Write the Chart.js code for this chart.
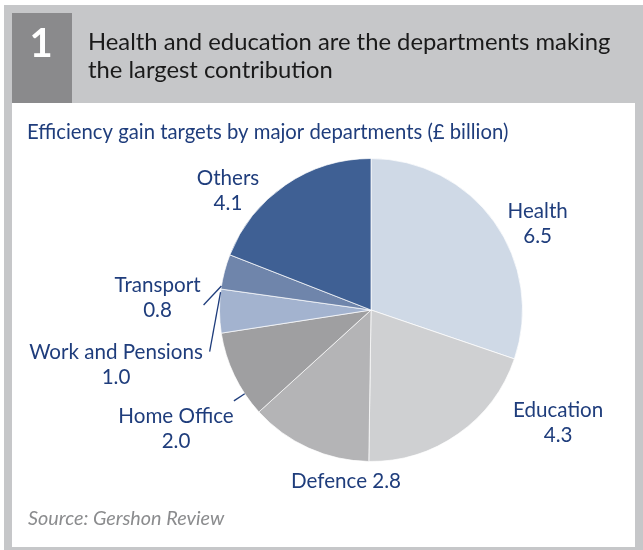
<!DOCTYPE html>
<html>
<head>
<meta charset="utf-8">
<script src="https://cdn.jsdelivr.net/npm/chart.js@4.4.1/dist/chart.umd.min.js"></script>
<style>
  html, body { margin: 0; padding: 0; background: #ffffff; }
  canvas { display: block; }
</style>
</head>
<body>
<canvas id="pie" width="643" height="550"></canvas>
<script>
// Efficiency gain targets by department, £ billion
const departments = ['Health', 'Education', 'Defence', 'Home Office', 'Work and Pensions', 'Transport', 'Others'];
const targets = [6.5, 4.3, 2.8, 2.0, 1.0, 0.8, 4.1];
const sliceColours = ['#cfd9e6', '#cfd0d2', '#b4b4b6', '#9f9fa1', '#a3b3cf', '#6f85ab', '#3f6094'];

const figureNumber = '1';
const headline = ['Health and education are the departments making', 'the largest contribution'];
const subtitle = 'Efficiency gain targets by major departments (\u00a3 billion)';
const sourceNote = 'Source: Gershon Review';

const FONT = 'Lato, "Open Sans", sans-serif';
const LABEL_BLUE = '#1f3d7c';

// Where each slice label sits, in multiples of the pie radius from its centre.
// oneLine: name and value share a line; leader: end of the pointer line near the text.
const labelLayout = {
  'Health':            { dx: 1.10,   dy: -0.61 },
  'Education':         { dx: 1.235,  dy: 0.705 },
  'Defence':           { dx: -0.165, dy: 1.175, oneLine: true },
  'Home Office':       { dx: -1.287, dy: 0.746, leader: [-0.905, 0.60] },
  'Work and Pensions': { dx: -1.683, dy: 0.323, leader: [-1.065, 0.275] },
  'Transport':         { dx: -1.409, dy: -0.119, leader: [-1.105, -0.033] },
  'Others':            { dx: -0.944, dy: -0.825 }
};

// Grey panel, numbered box, headline, subtitle and source note
const framePlugin = {
  id: 'frame',
  beforeDraw(chart) {
    const ctx = chart.ctx;
    ctx.save();
    ctx.fillStyle = '#ffffff';
    ctx.fillRect(0, 0, 643, 550);
    ctx.fillStyle = '#c6c7c9';
    ctx.fillRect(4, 5, 639, 545);
    ctx.fillStyle = '#8a8a8c';
    ctx.fillRect(12, 13, 60, 90);
    ctx.fillStyle = '#ffffff';
    ctx.fillRect(12, 103, 623, 444);

    ctx.textBaseline = 'alphabetic';
    ctx.fillStyle = '#ffffff';
    ctx.textAlign = 'center';
    ctx.font = 'bold 40px ' + FONT;
    ctx.fillText(figureNumber, 41, 57);

    ctx.textAlign = 'left';
    ctx.fillStyle = '#1a1a1a';
    ctx.font = '23.8px ' + FONT;
    ctx.fillText(headline[0], 88, 50);
    ctx.fillText(headline[1], 88, 78);

    ctx.fillStyle = LABEL_BLUE;
    ctx.font = '20.3px ' + FONT;
    ctx.fillText(subtitle, 27, 139);

    ctx.fillStyle = '#8b8c8e';
    ctx.font = 'italic 19.8px ' + FONT;
    ctx.fillText(sourceNote, 28, 525);
    ctx.restore();
  }
};

// Department names and values around the pie, with pointer lines for thin slices
const labelPlugin = {
  id: 'sliceLabels',
  afterDatasetsDraw(chart) {
    const ctx = chart.ctx;
    const meta = chart.getDatasetMeta(0);
    ctx.save();
    ctx.fillStyle = LABEL_BLUE;
    ctx.strokeStyle = LABEL_BLUE;
    ctx.lineWidth = 1.3;
    ctx.font = '20.6px ' + FONT;
    ctx.textAlign = 'center';
    ctx.textBaseline = 'alphabetic';
    meta.data.forEach((arc, i) => {
      const p = arc.getProps(['x', 'y', 'outerRadius', 'startAngle', 'endAngle'], true);
      const name = departments[i];
      const value = targets[i].toFixed(1);
      const L = labelLayout[name];
      const r = p.outerRadius;
      const tx = p.x + L.dx * r;
      const ty = p.y + L.dy * r;
      if (L.oneLine) {
        ctx.fillText(name + ' ' + value, tx, ty);
      } else {
        ctx.fillText(name, tx, ty);
        ctx.fillText(value, tx, ty + 25);
      }
      if (L.leader) {
        const ax = p.x + L.leader[0] * r;
        const ay = p.y + L.leader[1] * r;
        let a = Math.atan2(ay - p.y, ax - p.x);
        if (a < p.startAngle) a += Math.PI * 2;
        const pad = Math.min(0.02, (p.endAngle - p.startAngle) / 4);
        a = Math.min(Math.max(a, p.startAngle + pad), p.endAngle - pad);
        const ex = p.x + Math.cos(a) * r;
        const ey = p.y + Math.sin(a) * r;
        ctx.beginPath();
        ctx.moveTo(ax, ay);
        ctx.lineTo(ex, ey);
        ctx.stroke();
      }
    });
    ctx.restore();
  }
};

new Chart(document.getElementById('pie'), {
  type: 'pie',
  data: {
    labels: departments,
    datasets: [{
      data: targets,
      backgroundColor: sliceColours,
      borderColor: 'rgba(255,255,255,0.7)',
      borderWidth: 1
    }]
  },
  options: {
    responsive: false,
    devicePixelRatio: 1,
    animation: false,
    events: [],
    layout: { padding: { left: 219, right: 120, top: 158, bottom: 88 } },
    plugins: {
      legend: { display: false },
      tooltip: { enabled: false },
      title: { display: false }
    }
  },
  plugins: [framePlugin, labelPlugin]
});
</script>
</body>
</html>
